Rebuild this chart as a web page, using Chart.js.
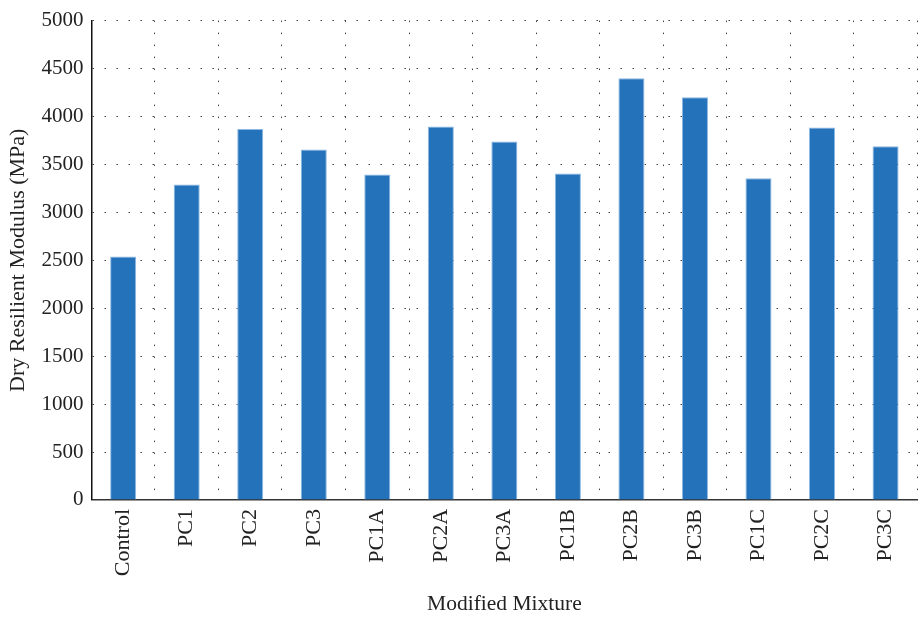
<!DOCTYPE html>
<html>
<head>
<meta charset="utf-8">
<script src="https://cdn.jsdelivr.net/npm/chart.js@4"></script>
<style>
html,body{margin:0;padding:0;background:#fff;}
#wrap{width:921px;height:618px;position:relative;}
</style>
</head>
<body>
<div id="wrap"><canvas id="c" width="921" height="618"></canvas></div>
<script>
const categories = ["Control","PC1","PC2","PC3","PC1A","PC2A","PC3A","PC1B","PC2B","PC3B","PC1C","PC2C","PC3C"];
const modulusValues = [2540,3290,3870,3655,3395,3895,3740,3405,4400,4200,3355,3885,3690];
const yTicks = [0,500,1000,1500,2000,2500,3000,3500,4000,4500,5000];

const fontFam = "'Liberation Serif', 'Times New Roman', serif";
new Chart(document.getElementById('c'), {
  type: 'bar',
  data: {
    labels: categories,
    datasets: [{
      data: modulusValues,
      backgroundColor: '#2372BA',
      borderColor: '#8DB8E2',
      borderWidth: 1,
      categoryPercentage: 1,
      barPercentage: 0.41
    }]
  },
  options: {
    responsive: false,
    animation: false,
    layout: { padding: { top: 1, right: 1, left: 0, bottom: 0 } },
    plugins: { legend: { display: false }, tooltip: { enabled: false } },
    scales: {
      x: {
        grid: { display: true, offset: true, color: '#444', lineWidth: 1, drawTicks: false },
        border: { display: true, color: '#333', width: 1.5, dash: [1.5, 10.5] },
        ticks: { color: '#222', font: { family: fontFam, size: 22 }, minRotation: 90, maxRotation: 90, padding: 9, autoSkip: false },
        title: { display: true, text: 'Modified Mixture', color: '#222', font: { family: fontFam, size: 21.5 }, padding: { top: 6, bottom: 1 } }
      },
      y: {
        min: 0, max: 5000,
        afterBuildTicks: (axis) => { axis.ticks = yTicks.map(v => ({ value: v })); },
        grid: { display: true, color: '#444', lineWidth: 1, drawTicks: false },
        border: { display: true, color: '#111', width: 1.5, dash: [1.5, 10.5] },
        ticks: { color: '#222', font: { family: fontFam, size: 21 }, padding: 8, callback: (v) => String(v) },
        title: { display: true, text: 'Dry Resilient Modulus (MPa)', color: '#222', font: { family: fontFam, size: 22 }, padding: { top: 5, bottom: 2 } }
      }
    }
  }
});
</script>
</body>
</html>
